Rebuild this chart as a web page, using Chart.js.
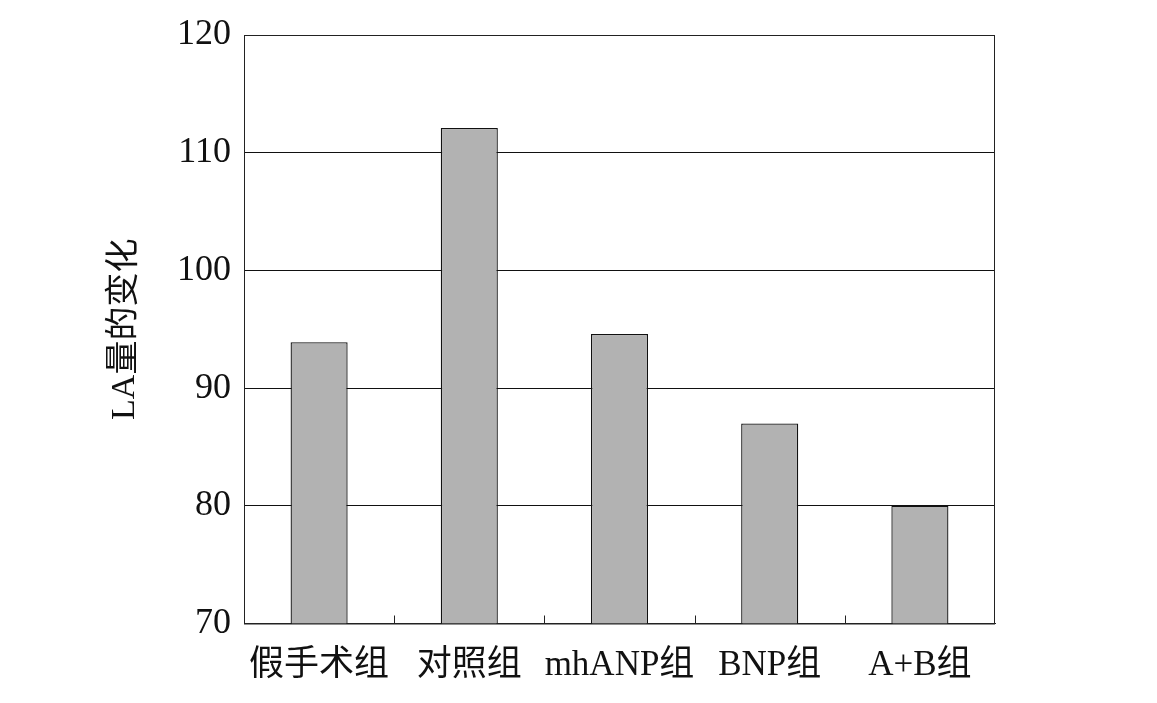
<!DOCTYPE html>
<html>
<head>
<meta charset="utf-8">
<script src="https://cdn.jsdelivr.net/npm/chart.js@4"></script>
<style>
  html, body { margin: 0; padding: 0; background: #fff; }
  #wrap { width: 1157px; height: 703px; }
</style>
</head>
<body>
<div id="wrap"><canvas id="graph"></canvas></div>
<script>
var groupLabels = ['假手术组', '对照组', 'mhANP组', 'BNP组', 'A+B组'];
var laValues = [93.9, 112.1, 94.6, 87.0, 80.0];
var yTicks = [70, 80, 90, 100, 110, 120];

var fontFamily = '"Liberation Serif", "Noto Sans CJK SC", serif';

// frame round the plot and small inward ticks between the groups
const framePlugin = {
  id: 'frame',
  afterDraw: function (chart) {
    var ctx = chart.ctx;
    var area = chart.chartArea;
    var x = chart.scales.x;
    ctx.save();
    ctx.strokeStyle = '#222';
    ctx.lineWidth = 1;
    ctx.strokeRect(area.left + 0.5, area.top + 0.5, area.right - area.left - 1, area.bottom - area.top);
    ctx.beginPath();
    for (var i = 0; i < groupLabels.length - 1; i++) {
      var px = Math.round((x.getPixelForValue(i) + x.getPixelForValue(i + 1)) / 2) + 0.5;
      ctx.moveTo(px, area.bottom);
      ctx.lineTo(px, area.bottom - 8);
    }
    ctx.stroke();
    ctx.restore();
  }
};

const config = {
  type: 'bar',
  data: {
    labels: groupLabels,
    datasets: [{
      label: 'LA量的变化',
      data: laValues,
      backgroundColor: '#b2b2b2',
      borderColor: '#111',
      borderWidth: 1.3,
      categoryPercentage: 1,
      barPercentage: 0.38
    }]
  },
  options: {
    responsive: true,
    maintainAspectRatio: false,
    animation: false,
    layout: {
      padding: { left: 105, right: 162, top: 35, bottom: 0 }
    },
    plugins: {
      legend: { display: false },
      tooltip: { enabled: false }
    },
    scales: {
      x: {
        grid: { display: false, drawTicks: false },
        border: { display: true, color: '#222', width: 1 },
        ticks: {
          color: '#111',
          padding: 21,
          autoSkip: false,
          maxRotation: 0,
          minRotation: 0,
          font: { family: fontFamily, size: 35 }
        },
        afterFit: function (scale) { scale.height = 79.5; }
      },
      y: {
        min: 70,
        max: 120,
        afterBuildTicks: function (scale) {
          scale.ticks = yTicks.map(function (v) { return { value: v }; });
        },
        grid: { color: '#111', lineWidth: 1, drawTicks: false },
        border: { display: true, color: '#222', width: 1 },
        ticks: {
          color: '#111',
          padding: 13,
          font: { family: fontFamily, size: 36 }
        },
        title: {
          display: true,
          text: 'LA量的变化',
          color: '#111',
          padding: 0,
          font: { family: fontFamily, size: 34 }
        },
        afterFit: function (scale) { scale.width = 139; }
      }
    }
  },
  plugins: [framePlugin]
};

var myChart = new Chart(document.getElementById('graph'), config);
</script>
</body>
</html>
